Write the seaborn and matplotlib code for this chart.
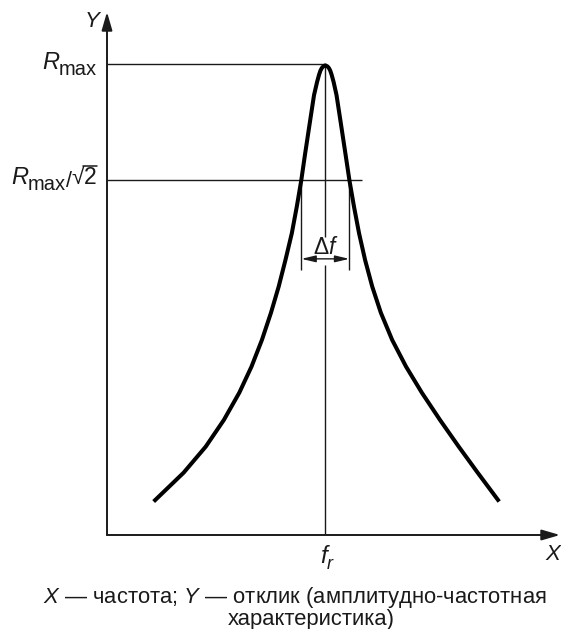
import matplotlib
matplotlib.use("Agg")
import matplotlib.pyplot as plt
from matplotlib.lines import Line2D
from matplotlib.transforms import IdentityTransform
import numpy as np
import pandas as pd
import seaborn as sns

# ---------------- data ----------------
# resonance curve: frequency (x) and response (y), arbitrary units 0..100
freq = [10.3, 16.9, 21.8, 25.8, 29.2, 31.9, 34.2, 36.2, 37.9, 39.4, 40.8,
        41.9, 42.9, 43.7, 44.8, 45.7, 46.37, 46.81, 47.12, 47.43, 47.74,
        48.2,
        48.66, 48.97, 49.28, 49.59, 50.03, 50.67, 51.57, 52.67, 53.5, 54.52,
        55.64, 56.97, 58.55, 60.45, 62.95, 66.01, 69.51, 73.51, 77.64, 81.84,
        86.57]
resp = [6.4, 11.9, 16.9, 22.0, 27.2, 32.2, 37.3, 42.5, 47.5, 52.6, 57.7,
        62.8, 67.9, 72.7, 79.0, 84.1, 86.6, 88.0, 88.8, 89.3, 89.6,
        89.8,
        89.6, 89.3, 88.8, 88.0, 86.6, 84.1, 79.0, 72.7, 67.9, 62.8,
        57.7, 52.6, 47.5, 42.5, 37.3, 32.2, 27.2, 22.0, 16.9, 11.9,
        6.4]

F_R = 48.2            # resonance frequency
R_MAX = 90.0          # maximum response
R_HALF = 67.9         # R_max / sqrt(2) level as drawn
F_LOW, F_HIGH = 42.9, 53.5   # band edges (delta f)
HALF_LINE_END = 56.3  # right end of the R_max/sqrt2 line
DF_BOTTOM = 50.7      # lower end of the band-edge lines
DF_ARROW_Y = 52.8     # level of the delta-f arrow
GAP_LO, GAP_HI = 51.6, 57.0  # centre line hidden behind the delta-f label
X_END, Y_END = 100.0, 100.0

caption_1 = "$X$ — частота; $Y$ — отклик (амплитудно-частотная"
caption_2 = "характеристика)"

# ---------------- style ----------------
sns.set_style("white")
plt.rcParams["font.family"] = ["Liberation Sans", "DejaVu Sans"]
plt.rcParams["mathtext.fontset"] = "custom"
plt.rcParams["mathtext.rm"] = "Liberation Sans"
plt.rcParams["mathtext.it"] = "Liberation Sans:italic"
plt.rcParams["mathtext.bf"] = "Liberation Sans:bold"

INK = "#1a1a1a"
THIN = 1.0

fig = plt.figure(figsize=(5.61, 6.29), dpi=100)
fig.patch.set_facecolor("white")
ax = fig.add_axes([107 / 561, 94 / 629, 453 / 561, 523 / 629])
ax.set_xlim(0, X_END)
ax.set_ylim(0, Y_END)
ax.axis("off")

# curve
df = pd.DataFrame({"f": freq, "r": resp})
sns.lineplot(data=df, x="f", y="r", ax=ax, color="black", lw=2.9, sort=False,
             estimator=None, solid_joinstyle="round", solid_capstyle="butt",
             zorder=5)

# axes with arrows
ax_arrow = dict(arrowstyle="-|>,head_length=1.1,head_width=0.32", color=INK,
                lw=1.4, shrinkA=0, shrinkB=0, mutation_scale=10)
ax.annotate("", xy=(0, Y_END), xytext=(0, 0), arrowprops=ax_arrow,
            annotation_clip=False)
ax.annotate("", xy=(X_END, 0), xytext=(0, 0), arrowprops=ax_arrow,
            annotation_clip=False)

# guide lines
ax.hlines(R_MAX, 0, F_R, color=INK, lw=THIN)
ax.hlines(R_HALF, 0, HALF_LINE_END, color=INK, lw=THIN)
ax.vlines(F_R, 0, GAP_LO, color=INK, lw=THIN)
ax.vlines(F_R, GAP_HI, R_MAX, color=INK, lw=THIN)
ax.vlines([F_LOW, F_HIGH], DF_BOTTOM, R_HALF, color=INK, lw=THIN)

# delta f arrow and label
ax.annotate("", xy=(F_LOW, DF_ARROW_Y), xytext=(F_HIGH, DF_ARROW_Y),
            arrowprops=dict(arrowstyle="<|-|>,head_length=0.85,head_width=0.2",
                            color=INK, lw=THIN, shrinkA=0, shrinkB=0,
                            mutation_scale=10))
ax.annotate(r"$\Delta\mathit{f}$", xy=(F_R, DF_ARROW_Y), xytext=(0.5, 3.5),
            textcoords="offset points", ha="center", va="baseline",
            fontsize=16.5, color=INK)

renderer = fig.canvas.get_renderer()
PX = fig.dpi / 72.0


def chain_right(parts, yval, x_start):
    """place text pieces right-to-left, ending x_start points left of the y axis;
    returns the display bboxes of the pieces"""
    xoff = x_start
    boxes = []
    for text, size, dy, style, gap in parts:
        t = ax.annotate(text, xy=(0, yval), xytext=(xoff, dy),
                        textcoords="offset points", ha="right", va="baseline",
                        fontsize=size, style=style, color=INK,
                        annotation_clip=False)
        bb = t.get_window_extent(renderer)
        boxes.append(bb)
        xoff -= bb.width / PX + gap
    return boxes


chain_right([("max", 14.5, -7.9, "normal", 0.0),
             ("R", 17, -3.6, "italic", 0.0)],
            R_MAX, -7.0)

SQRT_SIZE = 16.5
SQRT_DY = -3.0
boxes = chain_right([("2", SQRT_SIZE, SQRT_DY, "normal", 0.0),
                     ("√", SQRT_SIZE, SQRT_DY, "normal", -0.3),
                     ("/", 15.5, -4.8, "normal", -0.3),
                     ("max", 14.5, -7.5, "normal", 0.0),
                     ("R", 17, -3.0, "italic", 0.0)],
                    R_HALF, -7.5)
# vinculum of the square root over the "2"
base_y = ax.transData.transform((0, R_HALF))[1] + SQRT_DY * PX
bar_y = base_y + 0.80 * SQRT_SIZE * PX
fig.add_artist(Line2D([boxes[1].x1 - 1.0, boxes[0].x1 + 0.5], [bar_y, bar_y],
                      transform=IdentityTransform(), color=INK, lw=1.1))

# f_r label
ax.annotate("f", xy=(F_R, 0), xytext=(1.5, -20.3), textcoords="offset points",
            ha="right", va="baseline", fontsize=17.5, style="italic", color=INK,
            annotation_clip=False)
ax.annotate("r", xy=(F_R, 0), xytext=(0.8, -24.8), textcoords="offset points",
            ha="left", va="baseline", fontsize=13, style="italic", color=INK,
            annotation_clip=False)

# axis names
ax.annotate("X", xy=(X_END, 0), xytext=(0.5, -18.0), textcoords="offset points",
            ha="right", va="baseline", fontsize=16, style="italic", color=INK,
            annotation_clip=False)
ax.annotate("Y", xy=(0, Y_END), xytext=(-5.0, -11.0), textcoords="offset points",
            ha="right", va="baseline", fontsize=16, style="italic", color=INK,
            annotation_clip=False)

# caption
fig.text(295 / 561, (629 - 602.5) / 629, caption_1, ha="center", va="baseline",
         fontsize=15.8, color=INK)
fig.text(311 / 561, (629 - 625) / 629, caption_2, ha="center",
         va="baseline", fontsize=15.8, color=INK)

fig.savefig("out.png", dpi=100, facecolor="white")
